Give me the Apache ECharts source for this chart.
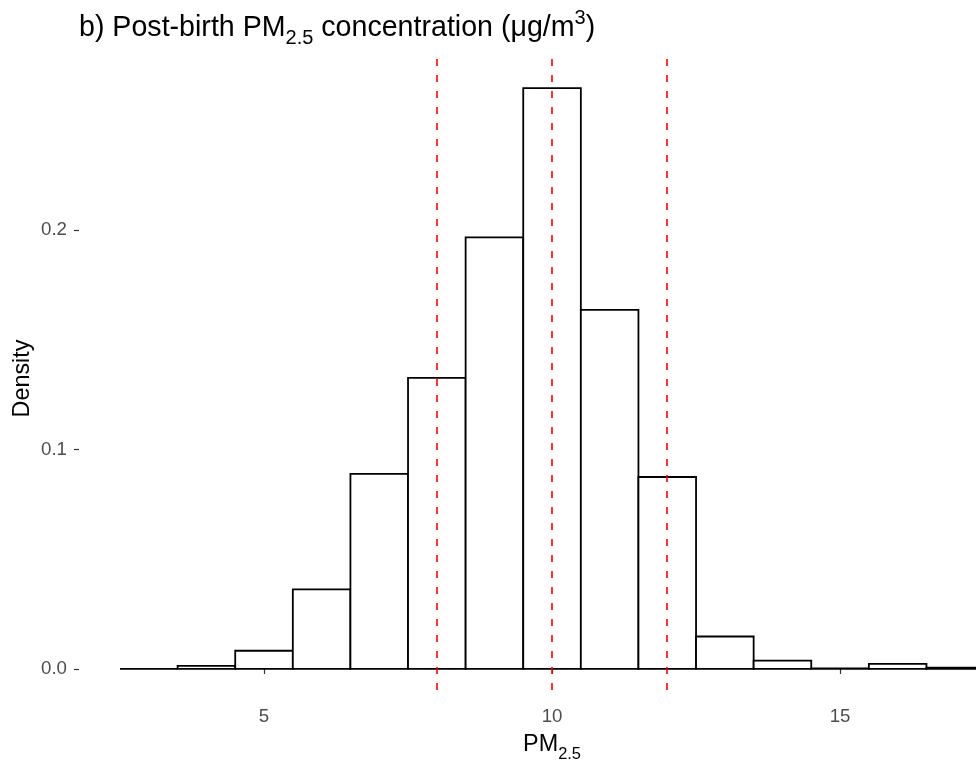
<!DOCTYPE html>
<html>
<head>
<meta charset="utf-8">
<script src="https://cdn.jsdelivr.net/npm/echarts@6/dist/echarts.min.js"></script>
<style>
html,body{margin:0;padding:0;background:#fff;}
#chart{width:976px;height:761px;}
</style>
</head>
<body>
<div id="chart"></div>
<script>
// Histogram bins (centres, width 1) and densities
const binCenters = [3, 4, 5, 6, 7, 8, 9, 10, 11, 12, 13, 14, 15, 16, 17, 18];
const density = [0, 0.0014, 0.0083, 0.0363, 0.0889, 0.1327, 0.1967, 0.2648, 0.1637, 0.0875, 0.0148, 0.0038, 0.0003, 0.0023, 0.0006, 0];
const binWidth = 1;
// Reference (dashed) lines
const refLines = [8, 10, 12];
// Tick labels
const xTicks = [5, 10, 15];
const yTicks = [0, 0.1, 0.2];

const FONT = '"Liberation Sans", Arial, sans-serif';
const chart = echarts.init(document.getElementById('chart'), null, {renderer: 'canvas'});

const histData = binCenters.map((c, i) => [c, density[i]]);
const yMin = -0.01324, yMax = 0.27804;

chart.setOption({
  animation: false,
  backgroundColor: '#ffffff',
  title: [
    {
      text: '{a|b) Post-birth PM}{sub|2.5}{a| concentration (μg/m}{sup|3}{a|)}',
      left: 79,
      top: 8,
      padding: 0,
      textStyle: {
        fontFamily: FONT,
        fontWeight: 'normal',
        rich: {
          a: {fontSize: 28.6, fontFamily: FONT, fontWeight: 'normal', color: '#000', lineHeight: 40, verticalAlign: 'middle'},
          sub: {fontSize: 20, fontFamily: FONT, fontWeight: 'normal', color: '#000', lineHeight: 26, verticalAlign: 'bottom'},
          sup: {fontSize: 20, fontFamily: FONT, fontWeight: 'normal', color: '#000', lineHeight: 12, verticalAlign: 'top'}
        }
      }
    },
    {
      text: '{a|PM}{sub|2.5}',
      left: 552,
      top: 728,
      padding: 0,
      textAlign: 'center',
      textStyle: {
        fontFamily: FONT,
        fontWeight: 'normal',
        rich: {
          a: {fontSize: 23.4, fontFamily: FONT, fontWeight: 'normal', color: '#000', lineHeight: 34, verticalAlign: 'middle'},
          sub: {fontSize: 16.4, fontFamily: FONT, fontWeight: 'normal', color: '#000', lineHeight: 22, verticalAlign: 'bottom'}
        }
      }
    }
  ],
  grid: {left: 79, right: 0, top: 59, bottom: 63, containLabel: false},
  xAxis: {
    type: 'value',
    min: 1.788,
    max: 17.36,
    axisLine: {show: false},
    splitLine: {show: false},
    axisTick: {show: true, length: 5, lineStyle: {color: '#333333', width: 1.2}, customValues: xTicks},
    axisLabel: {show: true, customValues: xTicks, color: '#4D4D4D', fontSize: 18.7, fontFamily: FONT, margin: 9}
  },
  yAxis: {
    type: 'value',
    min: yMin,
    max: yMax,
    name: 'Density',
    nameLocation: 'middle',
    nameRotate: 90,
    nameGap: 45,
    nameMoveOverlap: false,
    nameTextStyle: {color: '#000', fontSize: 23.4, fontFamily: FONT},
    axisLine: {show: false},
    splitLine: {show: false},
    axisTick: {show: true, length: 5, lineStyle: {color: '#333333', width: 1.2}, customValues: yTicks},
    axisLabel: {show: true, customValues: yTicks, color: '#4D4D4D', fontSize: 18.7, fontFamily: FONT, margin: 12,
      formatter: v => v.toFixed(1)}
  },
  series: [
    {
      type: 'custom',
      clip: true,
      z: 2,
      data: histData,
      renderItem: function (params, api) {
        const x = api.value(0);
        const h = api.value(1);
        const p0 = api.coord([x - binWidth / 2, h]);
        const p1 = api.coord([x + binWidth / 2, 0]);
        return {
          type: 'rect',
          shape: {x: p0[0], y: p0[1], width: p1[0] - p0[0], height: p1[1] - p0[1]},
          style: {fill: '#ffffff', stroke: '#000000', lineWidth: 1.8}
        };
      },
      markLine: {
        silent: true,
        symbol: ['none', 'none'],
        z: 5,
        label: {show: false},
        lineStyle: {color: '#FF0000', type: [7, 9], width: 1.6},
        data: refLines.map(v => [{coord: [v, yMax]}, {coord: [v, yMin]}])
      }
    }
  ]
});
</script>
</body>
</html>
